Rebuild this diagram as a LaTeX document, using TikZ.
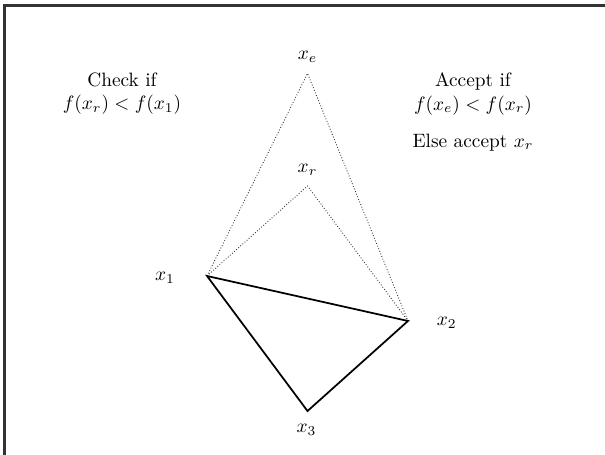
\documentclass[tikz,border=0pt]{standalone}

\begin{document}
\begin{tikzpicture}[edge/.style={line width=0.9pt,draw=black},trial/.style={densely dotted,line width=0.45pt,draw=black!80},note/.style={align=center,inner sep=0pt},frame/.style={line width=1.3pt,draw=black!80}]
\useasboundingbox (0,0) rectangle (11,-8.255);
\draw[frame] (0.085,-14) |- (14,-0.1);
\coordinate (x1) at (3.764,-5.018);
\coordinate (x2) at (7.418,-5.836);
\coordinate (x3) at (5.591,-7.473);
\coordinate (xr) at (5.591,-3.381);
\coordinate (xe) at (5.591,-1.335);
\node (l1) at (3.0,-5.055) {$x_1$};
\node (l2) at (8.122,-5.864) {$x_2$};
\node (l3) at (5.573,-7.818) {$x_3$};
\node (lr) at (5.591,-3.091) {$x_r$};
\node (le) at (5.591,-1.036) {$x_e$};
\node[note] (check) at (2.218,-1.709) {Check if\\$f(x_r)<f(x_1)$};
\node[note] (accept) at (8.600,-1.709) {Accept if\\$f(x_e)<f(x_r)$};
\node[note,anchor=base] (else) at (8.600,-2.673) {Else accept $x_r$};
\draw[trial] (x1) -- (xe) -- (x2);
\draw[trial] (x1) -- (xr) -- (x2);
\draw[edge] (x1) -- (x2) -- (x3) -- cycle;
\end{tikzpicture}
\end{document}
